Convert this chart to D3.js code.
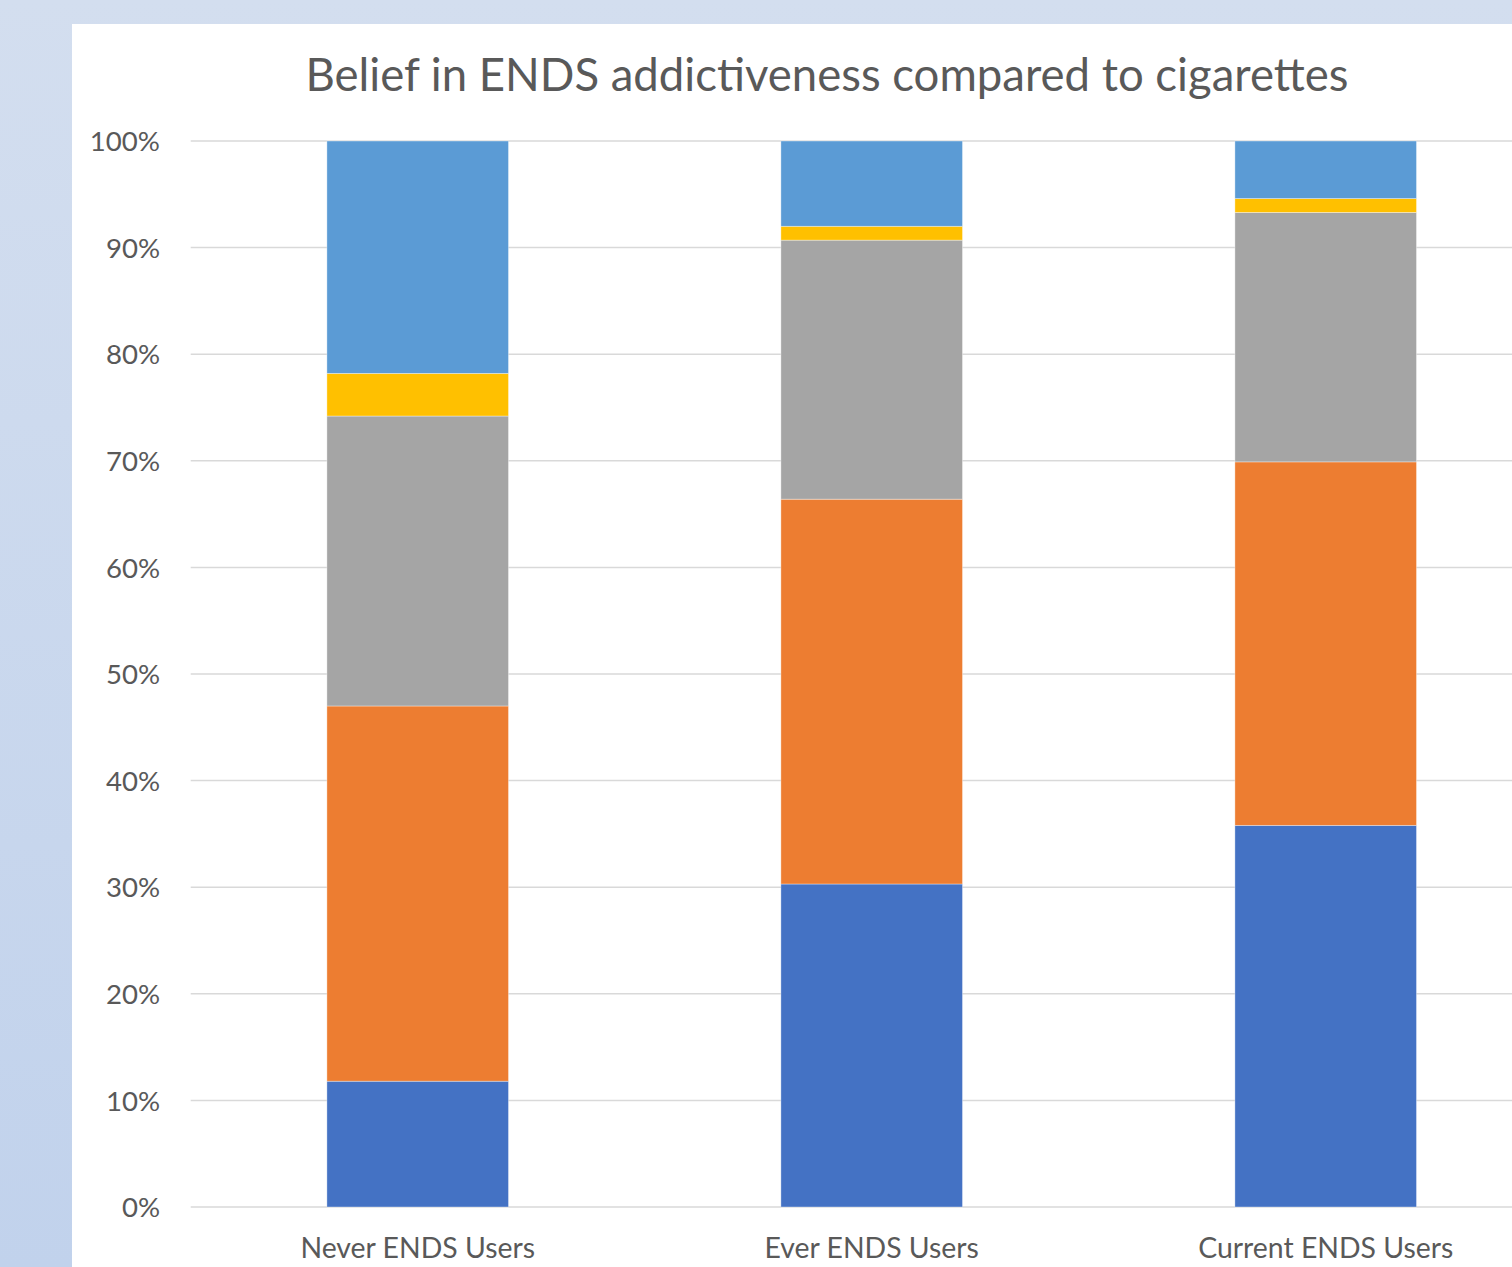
<!DOCTYPE html>
<html>
<head>
<meta charset="utf-8">
<script src="https://cdn.jsdelivr.net/npm/d3@7"></script>
<style>
  html, body { margin: 0; padding: 0; }
  body { width: 1512px; height: 1267px; overflow: hidden; }
  svg { display: block; }
</style>
</head>
<body>
<svg id="chart" width="1512" height="1267"></svg>
<script>
// Respondent groups along the x axis
const categories = ["Never ENDS Users", "Ever ENDS Users", "Current ENDS Users"];

// Share of respondents per answer, bottom segment first (percent)
const seriesKeys = ["s1", "s2", "s3", "s4", "s5"];
const s1 = [11.8, 30.3, 35.8];
const s2 = [35.2, 36.1, 34.1];
const s3 = [27.2, 24.3, 23.4];
const s4 = [4.0, 1.3, 1.3];
const s5 = [21.8, 8.0, 5.4];
const seriesValues = [s1, s2, s3, s4, s5];
const seriesColors = ["#4472c4", "#ed7d31", "#a5a5a5", "#ffc000", "#5b9bd5"];

const yTicks = [0, 0.1, 0.2, 0.3, 0.4, 0.5, 0.6, 0.7, 0.8, 0.9, 1.0];
const titleText = "Belief in ENDS addictiveness compared to cigarettes";

// Rows for d3.stack
const rows = categories.map((c, i) => {
  const r = { category: c };
  seriesKeys.forEach((k, j) => { r[k] = seriesValues[j][i] / 100; });
  return r;
});

const svg = d3.select("#chart");
const W = 1512, H = 1267;
const font = "Lato, 'Open Sans', sans-serif";
const textColor = "#595959";

// Slide backdrop
const defs = svg.append("defs");
const grad = defs.append("linearGradient").attr("id", "bg").attr("x1", 0).attr("y1", 0).attr("x2", 0).attr("y2", 1);
grad.append("stop").attr("offset", 0).attr("stop-color", "#d3deef");
grad.append("stop").attr("offset", 1).attr("stop-color", "#c1d2ec");
svg.append("rect").attr("width", W).attr("height", H).attr("fill", "url(#bg)");

// Chart panel
svg.append("rect").attr("x", 72).attr("y", 24).attr("width", W - 72).attr("height", H - 24).attr("fill", "#ffffff");

const plot = { left: 190.7, right: 1552.7, top: 141, bottom: 1207 };

const x = d3.scaleBand()
  .domain(categories)
  .range([plot.left, plot.right])
  .paddingInner(0.6)
  .paddingOuter(0.3);

const y = d3.scaleLinear().domain([0, 1]).range([plot.bottom, plot.top]);

// Gridlines
svg.append("g")
  .selectAll("line")
  .data(yTicks)
  .join("line")
  .attr("x1", plot.left)
  .attr("x2", plot.right)
  .attr("y1", d => y(d))
  .attr("y2", d => y(d))
  .attr("stroke", "#d9d9d9")
  .attr("stroke-width", 1.5);

// Y axis labels
const yAxis = d3.axisLeft(y).tickValues(yTicks).tickFormat(d3.format(".0%")).tickSize(0).tickPadding(0);
const yg = svg.append("g").attr("transform", `translate(160,0)`).call(yAxis);
yg.select(".domain").remove();
yg.selectAll("text")
  .attr("font-family", font)
  .attr("font-size", 27.6)
  .attr("fill", textColor)
  .attr("dy", "0.35em");

// Stacked bars
const stack = d3.stack().keys(seriesKeys);
const layers = stack(rows);

svg.append("g")
  .selectAll("g")
  .data(layers)
  .join("g")
  .attr("fill", (d, i) => seriesColors[i])
  .selectAll("rect")
  .data(d => d)
  .join("rect")
  .attr("x", d => x(d.data.category))
  .attr("width", x.bandwidth())
  .attr("y", d => y(d[1]))
  .attr("height", d => y(d[0]) - y(d[1]))
  .attr("stroke", "#ffffff")
  .attr("stroke-opacity", 0.45)
  .attr("stroke-width", 0.8);

// X axis labels
const xAxis = d3.axisBottom(x).tickSize(0).tickPadding(0);
const xg = svg.append("g").attr("transform", `translate(0,${plot.bottom})`).call(xAxis);
xg.select(".domain").remove();
xg.selectAll("text")
  .attr("font-family", font)
  .attr("font-size", 28.4)
  .attr("fill", textColor)
  .attr("dy", 0)
  .attr("y", 51);

// Title
svg.append("text")
  .attr("x", 827)
  .attr("y", 91)
  .attr("text-anchor", "middle")
  .attr("font-family", font)
  .attr("font-size", 45.5)
  .attr("fill", textColor)
  .text(titleText);
</script>
</body>
</html>
